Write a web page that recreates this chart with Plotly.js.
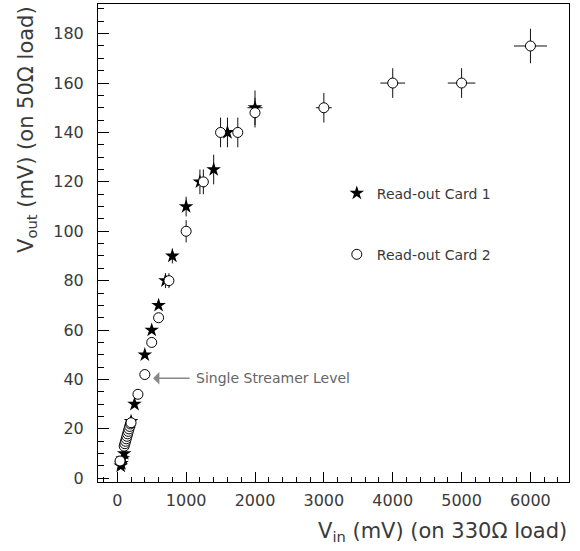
<!DOCTYPE html>
<html>
<head>
<meta charset="utf-8">
<script src="https://cdn.plot.ly/plotly-3.0.1.min.js"></script>
<style>html,body{margin:0;padding:0;background:#fff;}#chart{width:580px;height:551px;}</style>
</head>
<body>
<div id="chart"></div>
<script>
// Read-out Card 1 (stars)
const card1Vin  = [50, 60, 80, 100, 200, 250, 400, 500, 600, 700, 800, 1000, 1200, 1400, 1600, 2000];
const card1Vout = [5, 6, 8, 10, 23, 30, 50, 60, 70, 80, 90, 110, 120, 125, 140, 150];
const card1ErrY = [0, 0, 0, 0, 0, 0, 0, 0, 0, 3, 3, 4, 5, 6, 6, 7];
const card1ErrX = [0, 0, 0, 0, 0, 0, 0, 0, 0, 0, 0, 0, 0, 0, 0, 110];

// Read-out Card 2 (circles)
const card2Vin  = [40, 100, 110, 120, 130, 140, 150, 160, 170, 180, 190, 200, 300, 400, 500, 600, 750, 1000, 1250, 1500, 1750, 2000, 3000, 4000, 5000, 6000];
const card2Vout = [7, 13, 14, 15, 16, 17, 18, 19, 20, 21, 22, 22.5, 34, 42, 55, 65, 80, 100, 120, 140, 140, 148, 150, 160, 160, 175];
const card2ErrY = [0, 0, 0, 0, 0, 0, 0, 0, 0, 0, 0, 0, 0, 0, 0, 0, 3, 4.5, 5, 6, 6, 6, 6, 6, 6, 7];
const card2ErrX = [0, 0, 0, 0, 0, 0, 0, 0, 0, 0, 0, 0, 0, 0, 0, 0, 0, 0, 0, 0, 0, 0, 115, 180, 200, 240];

const seriesNames = ["Read-out Card 1", "Read-out Card 2"];
const xTicks = [0, 1000, 2000, 3000, 4000, 5000, 6000];
const yTicks = [0, 20, 40, 60, 80, 100, 120, 140, 160, 180];

const FONT = "DejaVu Sans, sans-serif";
const TXT = "#3a3a3a";

const traces = [
  {
    x: card1Vin, y: card1Vout, type: "scatter", mode: "markers", name: seriesNames[0],
    legendgroup: "g1",
    marker: {symbol: "star", size: 11, color: "#000"},
    error_y: {type: "data", array: card1ErrY, visible: true, color: "#111", thickness: 1, width: 0},
    error_x: {type: "data", array: card1ErrX, visible: true, color: "#111", thickness: 1, width: 0}
  },
  {
    x: card2Vin, y: card2Vout, type: "scatter", mode: "markers", name: seriesNames[1],
    legendgroup: "g2",
    marker: {symbol: "circle", size: 10, color: "#fff", line: {color: "#000", width: 1}},
    error_y: {type: "data", array: card2ErrY, visible: true, color: "#111", thickness: 1, width: 0},
    error_x: {type: "data", array: card2ErrX, visible: true, color: "#111", thickness: 1, width: 0}
  }
];

const axisCommon = {
  showline: true, linecolor: "#000", linewidth: 1, mirror: true,
  showgrid: false, zeroline: false,
  ticks: "inside", tickcolor: "#000", tickwidth: 1,
  tickfont: {family: FONT, size: 16, color: TXT}
};

const layout = {
  width: 580, height: 551,
  margin: {l: 98, r: 11, t: 4, b: 69},
  paper_bgcolor: "#fff", plot_bgcolor: "#fff",
  showlegend: true,
  legend: {
    x: 0.507, y: 0.637, xanchor: "left", yanchor: "top",
    font: {family: FONT, size: 14, color: TXT},
    traceorder: "grouped", tracegroupgap: 40,
    bgcolor: "rgba(0,0,0,0)", borderwidth: 0
  },
  xaxis: Object.assign({}, axisCommon, {
    range: [-280, 6560], tickmode: "array", tickvals: xTicks, ticklen: 10,
    ticklabelstandoff: 4,
    minor: {dtick: 200, ticklen: 5, ticks: "inside", tickcolor: "#000"}
  }),
  yaxis: Object.assign({}, axisCommon, {
    range: [-1.5, 192], tickmode: "array", tickvals: yTicks, ticklen: 11,
    ticklabelstandoff: 10,
    minor: {dtick: 5, ticklen: 6, ticks: "inside", tickcolor: "#000"}
  }),
  annotations: [
    {
      xref: "paper", yref: "paper", x: 1.0, y: -0.105, xanchor: "right", yanchor: "middle",
      text: "V<sub>in</sub> (mV) (on 330Ω load)", showarrow: false,
      font: {family: FONT, size: 21, color: TXT}
    },
    {
      xref: "paper", yref: "paper", x: -0.152, y: 1.0, xanchor: "center", yanchor: "top",
      textangle: -90,
      text: "V<sub>out</sub> (mV) (on 50Ω load)", showarrow: false,
      font: {family: FONT, size: 21, color: TXT}
    },
    {
      x: 520, y: 40.5, xref: "x", yref: "y",
      ax: 1110, ay: 40.5, axref: "x", ayref: "y",
      text: "Single Streamer Level", xanchor: "left", yanchor: "middle",
      font: {family: FONT, size: 14, color: "#666"},
      showarrow: true, arrowhead: 1, arrowsize: 1.4, arrowwidth: 1.5, arrowcolor: "#888",
      standoff: 0, startstandoff: 4
    }
  ]
};

Plotly.newPlot("chart", traces, layout, {displayModeBar: false, staticPlot: true});
</script>
</body>
</html>
